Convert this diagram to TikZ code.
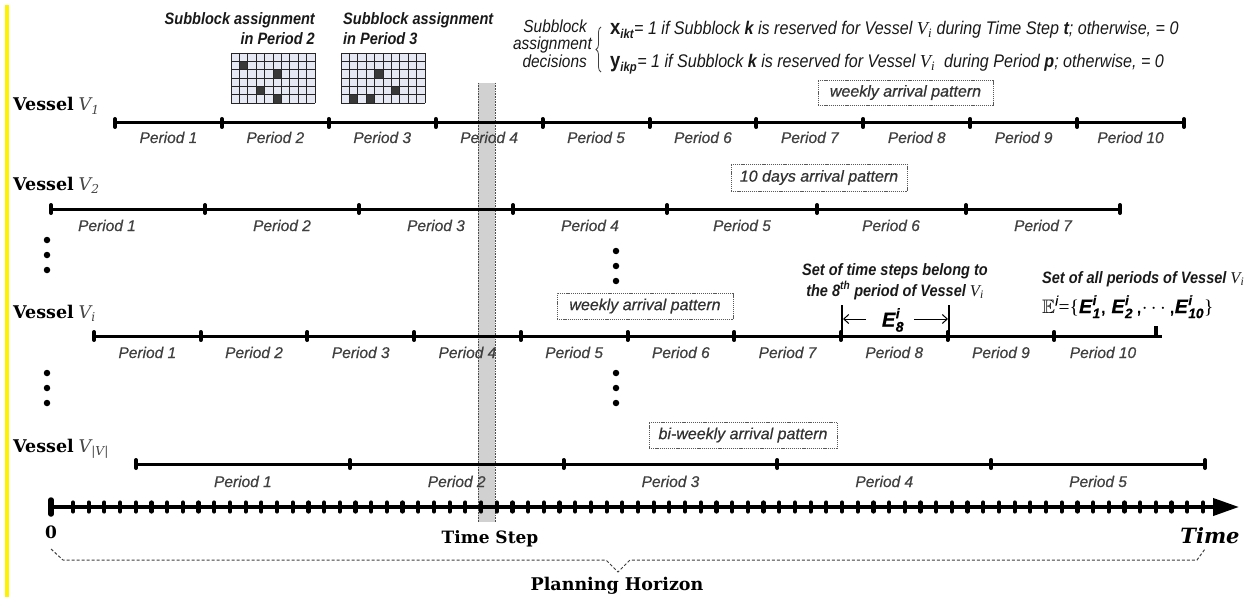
\documentclass[tikz,border=0pt]{standalone}
\usepackage{amsmath,amssymb}
\usepackage{fontspec}
\setmainfont{Liberation Sans}[FakeBold=0.5]
\newfontfamily\nsans[FakeStretch=0.88]{Liberation Sans}
\newfontfamily\dserif{DejaVu Serif}
\newfontfamily\tserif{Liberation Serif}
\usetikzlibrary{arrows.meta,decorations.pathreplacing}
\newcommand\bi[1]{\textbf{\textit{#1}}}
\newcommand\Vi{{\tserif\itshape\mdseries V\textsubscript{i}}}
\newcommand\vlab[1]{{\dserif\bfseries Vessel} {\dserif\itshape\color{black!72}V\textsubscript{#1}}}
\definecolor{cellbg}{HTML}{E6E8F4}
\definecolor{cellfg}{HTML}{383838}
\begin{document}
\begin{tikzpicture}[x=1pt,y=-1pt,
  tl/.style={line width=3pt, black},
  tk/.style={line width=4pt, line cap=round},
  per/.style={anchor=base, inner sep=0pt, font=\fontsize{15.5}{18}\selectfont\itshape, text=black!75},
  pat/.style={draw=black!65, dash pattern=on 1.2pt off 0.9pt, line width=0.7pt, inner sep=0pt, font=\fontsize{16}{18}\selectfont\itshape, text=black!80},
  vl/.style={anchor=base west, inner sep=0pt, font=\fontsize{17.5}{20}\selectfont},
  ann/.style={inner sep=0pt, font=\nsans\fontsize{16.5}{19}\selectfont\bfseries\itshape, text=black!90},
  dec/.style={inner sep=0pt, font=\nsans\fontsize{18.3}{20}\selectfont\itshape, text=black!90},
  decl/.style={dec, anchor=base east, font=\nsans\fontsize{17.5}{19}\selectfont\itshape},
  bl/.style={inner sep=0pt, anchor=base, font=\dserif\fontsize{17}{20}\selectfont\bfseries},
  dot/.style={circle, fill=black, inner sep=0pt, minimum size=6.5pt},
  gl/.style={line width=0.7pt, black!85},
  arr/.style={-{Straight Barb[length=5pt,width=9pt]}, line width=1pt},
]
\useasboundingbox (0,0) rectangle (1259,599);
\fill[white] (0,0) rectangle (1259,599);
\fill[yellow] (5,5) rectangle (9,597);

% shaded time step column
\fill[black!18] (478,83) rectangle (495,522);
\draw[black!70, densely dotted, line width=0.6pt] (478,83) -- (478,522) (495,83) -- (495,522);

% subblock grids
\begin{scope}[shift={(231,53)}]
  \fill[cellbg] (0,0) rectangle (84,50);
  \foreach \c/\r in {2/2,6/3,4/5,6/6} \fill[cellfg] ({(\c-1)*8.4},{(\r-1)*50/6}) rectangle ++(8.4,8.333);
  \foreach \i in {0,...,10} \draw[gl] ({\i*8.4},0) -- ({\i*8.4},50);
  \foreach \j in {0,...,6} \draw[gl] (0,{\j*50/6}) -- (84,{\j*50/6});
\end{scope}
\begin{scope}[shift={(341,53)}]
  \fill[cellbg] (0,0) rectangle (84,50);
  \foreach \c/\r in {5/3,7/5,2/6,4/6} \fill[cellfg] ({(\c-1)*8.4},{(\r-1)*50/6}) rectangle ++(8.4,8.333);
  \foreach \i in {0,...,10} \draw[gl] ({\i*8.4},0) -- ({\i*8.4},50);
  \foreach \j in {0,...,6} \draw[gl] (0,{\j*50/6}) -- (84,{\j*50/6});
\end{scope}

% top annotations
\node[ann, anchor=base east] (g1a) at (315,25) {Subblock assignment};
\node[ann, anchor=base east] (g1b) at (315,45) {in Period 2};
\node[ann, anchor=base west] (g2a) at (343,25) {Subblock assignment};
\node[ann, anchor=base west] (g2b) at (343,45) {in Period 3};
\node[decl] (d1) at (587,33) {Subblock};
\node[decl] (d2) at (592,50) {assignment};
\node[decl] (d3) at (587,68) {decisions};
\coordinate (brb) at (601,72);
\coordinate (brt) at (601,27);
\draw[decorate, decoration={brace, amplitude=5pt}, line width=0.8pt, black!75] (brb) -- (brt);
\node[dec, anchor=base west] (fx) at (610,35) {{\upshape\bfseries\fontsize{21}{20}\selectfont x}\textsubscript{\bfseries ikt}= 1 if Subblock \bi{k} is reserved for Vessel \Vi\ during Time Step \bi{t}; otherwise, = 0};
\node[dec, anchor=base west] (fy) at (610,68) {{\upshape\bfseries\fontsize{21}{20}\selectfont y}\textsubscript{\bfseries ikp}= 1 if Subblock \bi{k} is reserved for Vessel \Vi\ \ during Period \bi{p}; otherwise, = 0};

% vessel labels
\node[vl] (v1) at (13,111) {\vlab{\itshape 1}};
\node[vl] (v2) at (13,190) {\vlab{2}};
\node[vl] (vi) at (13,318) {\vlab{i}};
\node[vl] (vn) at (13,452) {\vlab{|V|}};

% arrival pattern boxes
\node[pat, minimum width=175pt, minimum height=25pt] (b1) at (905.5,92.5) {weekly arrival pattern};
\node[pat, minimum width=176pt, minimum height=27pt] (b2) at (819,177.5) {10 days arrival pattern};
\node[pat, minimum width=176pt, minimum height=26pt] (b3) at (645,306) {weekly arrival pattern};
\node[pat, minimum width=188pt, minimum height=26pt] (b4) at (743,435) {bi-weekly arrival pattern};

% Vessel 1
\coordinate (a1) at (115,123); \coordinate (e1) at (1184,123);
\draw[tl] (a1) -- (e1);
\foreach \k in {0,...,10} \draw[tk] ({115+\k*106.9},119) -- ++(0,8);
\foreach \k in {1,...,10} \node[per] (p1-\k) at ({115+(\k-0.5)*106.9},143) {Period \k};

% Vessel 2
\coordinate (a2) at (51,209); \coordinate (e2) at (1120,209);
\draw[tl] (a2) -- (e2);
\foreach \x in {51,205,359,513,667,817,966,1120} \draw[tk] (\x,205) -- ++(0,8);
\foreach \x [count=\k] in {107,282,436,590,742,891,1043} \node[per] (p2-\k) at (\x,231) {Period \k};

% Vessel i
\coordinate (ai) at (94,336); \coordinate (ei) at (1162,336);
\draw[tl] (ai) -- (ei);
\foreach \k in {0,...,9} \draw[tk] ({94+\k*106.7},332) -- ++(0,8);
\draw[line width=3.5pt] (1156,326) -- (1156,337);
\foreach \k in {1,...,9} \node[per] (pi-\k) at ({94+(\k-0.5)*106.7},358) {Period \k};
\node[per] (pi-10) at (1103,358) {Period 10};

% Vessel |V|
\coordinate (an) at (136,464); \coordinate (en) at (1205,464);
\draw[tl] (an) -- (en);
\foreach \k in {0,...,5} \draw[tk] ({136+\k*213.8},460) -- ++(0,8);
\foreach \k in {1,...,5} \node[per] (pn-\k) at ({136+(\k-0.5)*213.8},487) {Period \k};

% ellipses
\foreach \y [count=\k] in {240,255,270} \node[dot] (la\k) at (47,\y) {};
\foreach \y [count=\k] in {373,388,403} \node[dot] (lb\k) at (47,\y) {};
\foreach \y [count=\k] in {251,266,281} \node[dot] (ma\k) at (616,\y) {};
\foreach \y [count=\k] in {373,388,403} \node[dot] (mb\k) at (616,\y) {};

% E8 annotation
\node[ann, anchor=base] (s1) at (895,275) {Set of time steps belong to};
\node[ann, anchor=base] (s2) at (895,296) {the 8\textsuperscript{th} period of Vessel \Vi};
\coordinate (bl0) at (842,305); \coordinate (bl1) at (842,336);
\coordinate (br0) at (949,305); \coordinate (br1) at (949,336);
\draw[line width=1.2pt] (bl0) -- (bl1) (br0) -- (br1);
\node[inner sep=0pt, font=\fontsize{20}{20}\selectfont] (e8) at (893,320) {$\bi{E}^{\bi{i}}_{\bi{8}}$};
\coordinate (la) at (866,319); \coordinate (lb) at (843,319);
\coordinate (ra) at (914,319); \coordinate (rb) at (948,319);
\draw[arr] (la) -- (lb);
\draw[arr] (ra) -- (rb);

\node[ann, anchor=base west] (s3) at (1042,283) {Set of all periods of Vessel \Vi};
\node[inner sep=0pt, anchor=base west, font=\fontsize{19.5}{20}\selectfont] (set) at (1042,313)
  {$\mathbb{E}^{\mathit{i}}${\tserif=\{}$\bi{E}^{\bi{i}}_{\bi{1}}$, $\bi{E}^{\bi{i}}_{\bi{2}}$\,,$\cdots$,$\bi{E}^{\bi{i}}_{\bi{10}}${\tserif\}}};

% time axis
\coordinate (t0) at (51,507); \coordinate (t1) at (1239,507);
\draw[line width=4pt, -{Triangle[length=26pt,width=17pt]}] (t0) -- (t1);
\foreach \k in {0,...,72} \draw[tk, line width=4.2pt] ({73+\k*15.694},502.5) -- ++(0,9);
\draw[line width=5.5pt, line cap=round] (51,500) -- (51,514);

% planning horizon brace
\draw[dash pattern=on 3pt off 2pt, line width=1pt, black!75] (51,549) -- (63,560) -- (606,560) -- (618,572) -- (630,560) -- (1197,560) -- (1205,549);

\node[bl] (zero) at (51,538) {0};
\node[bl] (ts) at (490,543) {Time Step};
\node[bl, font=\dserif\fontsize{21}{24}\selectfont\bfseries\itshape] (time) at (1210,543) {Time};
\node[bl, font=\dserif\fontsize{17.5}{20}\selectfont\bfseries] (ph) at (617,590) {Planning Horizon};
\end{tikzpicture}
\end{document}
